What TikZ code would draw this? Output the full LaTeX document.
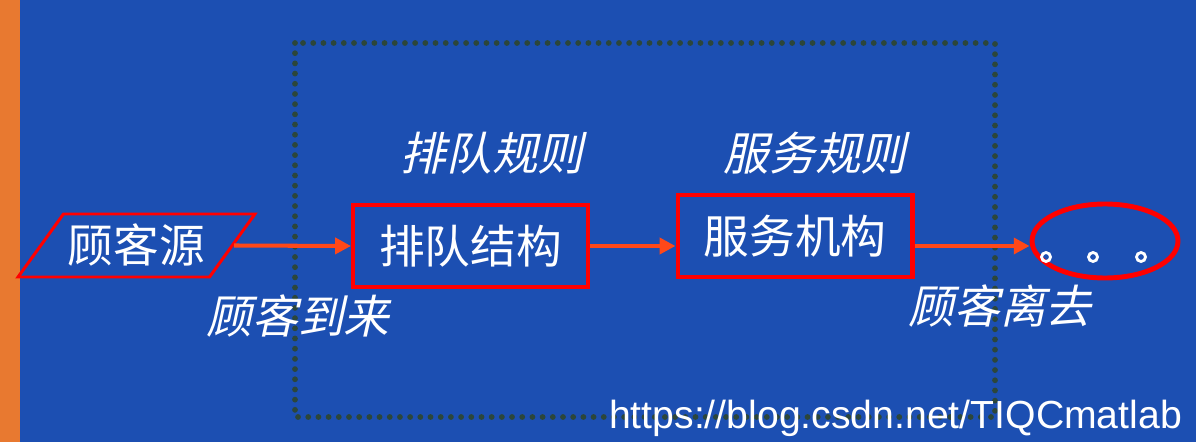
\documentclass[tikz,border=0pt]{standalone}
\usepackage{fontspec}
\usepackage{tikz}
\usetikzlibrary{shapes.geometric}
\usetikzlibrary{arrows.meta}
\setmainfont{Liberation Sans}
\newfontfamily\cjk{Noto Sans CJK SC}
\newfontfamily\cjkit[FakeSlant=0.22]{Noto Sans CJK SC}
\definecolor{bgblue}{RGB}{28,79,178}
\definecolor{stripe}{RGB}{232,121,48}
\definecolor{dotgreen}{RGB}{44,70,58}
\definecolor{flow}{RGB}{255,72,24}
\tikzset{
  box/.style={draw=red, line width=2.3pt, minimum width=4.7cm, minimum height=1.64cm,
    text=white, font=\cjk\fontsize{26}{30}\selectfont, inner sep=0pt},
  rule/.style={text=white, font=\cjkit\fontsize{26}{30}\selectfont, inner sep=0pt},
  flowline/.style={draw=flow, line width=2.3pt, -{Triangle[length=9pt,width=9pt]}},
}
\begin{document}
\begin{tikzpicture}[x=0.02cm, y=-0.02cm]
        \useasboundingbox (0,0) rectangle (1196,442);
        \fill[bgblue] (0,0) rectangle (1196,442);
        \fill[stripe] (0,0) rectangle (20,442);
        \draw[dotgreen, line width=3.3pt, line cap=round, dash pattern=on 0pt off 5.8pt]
            (295,43) rectangle (995,417);

        \node[trapezium, trapezium left angle=45, trapezium right angle=135, trapezium stretches=true,
            draw=red, line width=1.7pt, minimum width=4.74cm, minimum height=1.26cm,
            text=white, font=\cjk\fontsize{26}{30}\selectfont, inner sep=0pt] (src) at (136.5,245.5) {顾客源};
        \node[box] (queue) at (470.5,246) {排队结构};
        \node[box] (serv) at (795,236) {服务机构};
        \node[ellipse, draw=red, line width=2.8pt, minimum width=2.92cm, minimum height=1.48cm] (out) at (1105,241) {};
        \foreach \i in {1046,1093,1141}
        \draw[white, line width=1.6pt] (\i,257) circle (4.5);

        \draw[flowline] (src.east) -- (queue.west);
        \draw[flowline] (queue.east) -- (queue.east -| serv.west);
        \draw[flowline] (queue.east -| serv.east) -- (queue.east -| out.west);

        \node[rule] (qrule) at (492,153) {排队规则};
        \node[rule] (srule) at (815,153) {服务规则};
        \node[rule] (arrive) at (298,316) {顾客到来};
        \node[rule] (leave) at (1000,306) {顾客离去};
        \node[text=white, font=\fontsize{22.3}{26}\selectfont, inner sep=0pt, anchor=base] (url) at (895.5,428) {https://blog.csdn.net/TIQCmatlab};
        \end{tikzpicture}
\end{document}
